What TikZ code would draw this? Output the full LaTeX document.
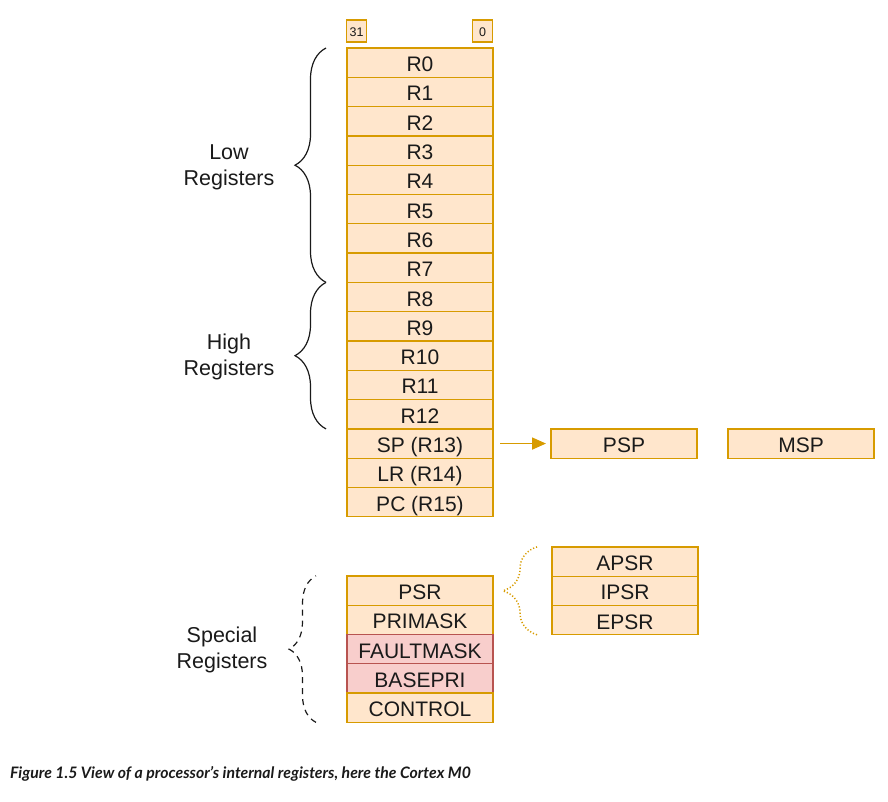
\documentclass[tikz,border=0pt]{standalone}
\usepackage{fontspec}
\setmainfont{Liberation Sans}
\newfontfamily\capfont{Lato}
\usetikzlibrary{arrows.meta,positioning,decorations.pathreplacing}
\definecolor{regfill}{HTML}{FFE6CC}
\definecolor{regline}{HTML}{D79B00}
\definecolor{faultfill}{HTML}{F8CECC}
\definecolor{faultline}{HTML}{B85450}
\definecolor{ink}{HTML}{1A1A1A}

\tikzset{
  reg/.style={draw=regline, fill=regfill, line width=1.3pt, minimum width=146pt,
    minimum height=29.3pt, inner sep=0pt, outer sep=0pt, text height=19pt, text depth=1pt,
    font=\fontsize{21}{24}\selectfont, text=ink},
  faultreg/.style={reg, draw=faultline, fill=faultfill},
  bitbox/.style={reg, minimum width=20pt, minimum height=22pt, text height=10pt, text depth=0pt,
    font=\fontsize{12.5}{14}\selectfont},
  grp/.style={align=center, font=\fontsize{21.5}{26}\selectfont, text=ink},
  regbrace/.style={decorate, decoration={brace, amplitude=#1}, line width=1.2pt, ink},
}

\begin{document}
\begin{tikzpicture}[x=1pt, y=1pt]
  \useasboundingbox (0,0) rectangle (888,-801);

  % bit numbers
  \node[bitbox] (msb) at (356.5,-31) {31};
  \node[bitbox] (lsb) at (482.5,-31) {0};

  % core registers
  \node[reg] (r0) at (420,-62.65) {R0};
  \foreach \i [remember=\i as \j (initially 0)] in {1,...,12}
    \node[reg, below=0pt of r\j] (r\i) {R\i};
  \node[reg, below=0pt of r12] (sp) {SP (R13)};
  \node[reg, below=0pt of sp] (lr) {LR (R14)};
  \node[reg, below=0pt of lr] (pc) {PC (R15)};

  % stack pointers
  \node[reg, right=58pt of sp] (psp) {PSP};
  \node[reg, right=31pt of psp] (msp) {MSP};
  \draw[-{Triangle[length=14pt, width=12pt]}, line width=1.7pt, regline]
    ([xshift=7pt]sp.east) -- ([xshift=-5pt]psp.west);

  % register groups
  \draw[regbrace=31pt] ([xshift=-21pt]r7.south west) -- ([xshift=-21pt]r0.north west);
  \draw[regbrace=31pt] ([xshift=-21pt]r12.south west) -- ([xshift=-21pt]r8.north west);
  \node[grp] (lowlbl) at (229,-167) {Low\\Registers};
  \node[grp] (highlbl) at (229,-357) {High\\Registers};

  % special registers
  \node[reg] (psr) at (420,-590.5) {PSR};
  \node[reg, below=0pt of psr] (primask) {PRIMASK};
  \node[faultreg, below=0pt of primask] (faultmask) {FAULTMASK};
  \node[faultreg, below=0pt of faultmask] (basepri) {BASEPRI};
  \node[reg, below=0pt of basepri] (control) {CONTROL};
  \draw[regbrace=27pt, dash pattern=on 6pt off 5pt, line width=1.2pt]
    ([xshift=-31pt]control.south west) -- ([xshift=-31pt]psr.north west);
  \node[grp] (speclbl) at (222,-650) {Special\\Registers};

  % program status
  \node[reg] (apsr) at (625,-561.5) {APSR};
  \node[reg, below=0pt of apsr] (ipsr) {IPSR};
  \node[reg, below=0pt of ipsr] (epsr) {EPSR};
  \draw[regbrace=34pt, regline, dotted, line width=1.5pt]
    ([xshift=-15pt]epsr.south west) -- ([xshift=-15pt]apsr.north west);

  % caption
  \node[anchor=west, inner sep=0pt, text=ink,
    font=\capfont\bfseries\itshape\fontsize{15.8}{18}\selectfont] (caption) at (10,-774)
    {Figure 1.5 View of a processor’s internal registers, here the Cortex M0};
\end{tikzpicture}
\end{document}
